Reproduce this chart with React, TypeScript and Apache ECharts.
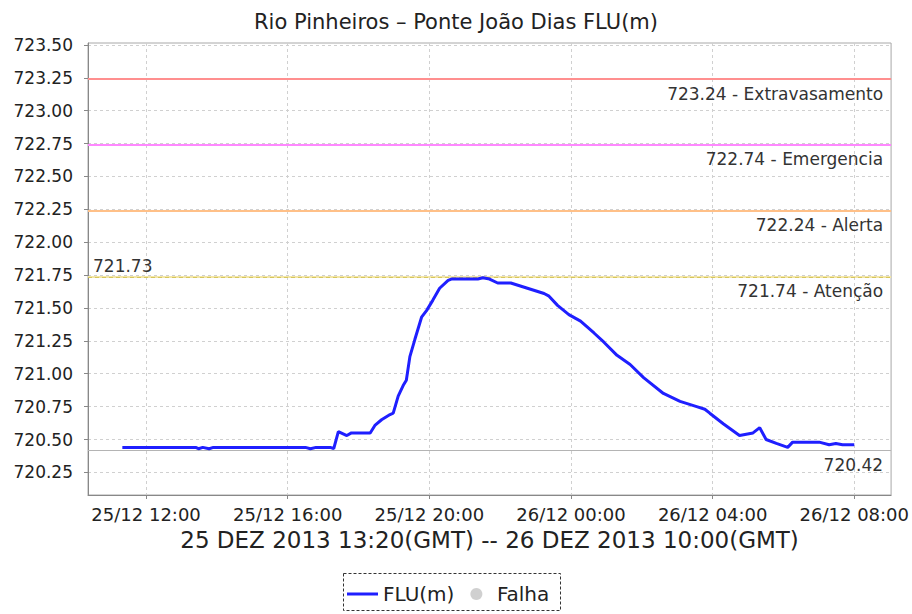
import React, { useEffect, useRef } from "react";
import * as echarts from "echarts";

const titleText = "Rio Pinheiros – Ponte João Dias FLU(m)";
const periodText = "25 DEZ 2013 13:20(GMT) -- 26 DEZ 2013 10:00(GMT)";
const seriesName = "FLU(m)";
const failName = "Falha";

// hours counted from 25/12 00:00 (local time)
const hours = [
  11.33, 12.0, 12.5, 13.0, 13.4, 13.48, 13.6, 13.78, 13.9, 14.5, 15.0, 15.5, 16.0, 16.5,
  16.64, 16.8, 17.2, 17.3, 17.43, 17.67, 17.8, 18.0, 18.33, 18.47, 18.65, 18.89, 18.98,
  19.12, 19.26, 19.35, 19.45, 19.59, 19.78, 19.92, 20.1, 20.29, 20.53, 20.62, 21.0, 21.37,
  21.51, 21.7, 21.93, 22.3, 22.77, 23.24, 23.38, 23.62, 23.94, 24.27, 24.65, 24.93, 25.3,
  25.67, 26.05, 26.61, 27.08, 27.55, 27.78, 27.92, 28.3, 28.76, 29.14, 29.33, 29.51, 29.8,
  30.12, 30.26, 30.73, 31.01, 31.29, 31.48, 31.67, 32.0,
];
const levels = [
  720.44, 720.44, 720.44, 720.44, 720.44, 720.43, 720.44, 720.43, 720.44, 720.44, 720.44,
  720.44, 720.44, 720.44, 720.43, 720.44, 720.44, 720.43, 720.56, 720.53, 720.55, 720.55,
  720.55, 720.61, 720.65, 720.69, 720.7, 720.83, 720.91, 720.95, 721.13, 721.26, 721.43,
  721.48, 721.56, 721.65, 721.71, 721.72, 721.72, 721.72, 721.73, 721.72, 721.69, 721.69,
  721.65, 721.61, 721.59, 721.52, 721.45, 721.4, 721.31, 721.24, 721.14, 721.07, 720.97,
  720.85, 720.79, 720.75, 720.73, 720.7, 720.62, 720.53, 720.55, 720.59, 720.5, 720.47,
  720.44, 720.48, 720.48, 720.48, 720.46, 720.47, 720.46, 720.46,
];

const yTicks = [
  720.25, 720.5, 720.75, 721.0, 721.25, 721.5, 721.75, 722.0, 722.25, 722.5, 722.75, 723.0,
  723.25, 723.5,
];
const xTicks = [12, 16, 20, 24, 28, 32];

const thresholdValues = [723.24, 722.74, 722.24, 721.74];
const thresholdLabels = [
  "723.24 - Extravasamento",
  "722.74 - Emergencia",
  "722.24 - Alerta",
  "721.74 - Atenção",
];
const maxValue = 721.73;
const minValue = 720.42;

const FONT = "DejaVu Sans";

function fmtTime(v: number): string {
  const day = 25 + Math.floor(v / 24);
  const h = Math.round(v % 24);
  return `${day}/12 ${String(h).padStart(2, "0")}:00`;
}

export default function App() {
  const ref = useRef<HTMLDivElement>(null);
  useEffect(() => {
    if (!ref.current) return;
    const chart = echarts.init(ref.current, undefined, { renderer: "svg" });
    const thresholdColors = ["#ff8f8f", "#ff88ff", "#ffc088", "#f3e6a8"];
    const lblStyle = { color: "#333", fontSize: 17, fontFamily: FONT };
    const markData: any[] = thresholdValues.map((v, i) => ({
      yAxis: v,
      lineStyle: { color: thresholdColors[i], width: 2, type: "solid" },
      label: {
        show: true,
        formatter: thresholdLabels[i],
        position: "insideEndBottom",
        distance: [8, 6],
        ...lblStyle,
      },
    }));
    markData.push({
      yAxis: maxValue,
      lineStyle: { color: "#d6c65c", width: 1, type: [4, 3] },
      label: {
        show: true,
        formatter: String(maxValue),
        position: "insideStartTop",
        distance: [5, 3],
        ...lblStyle,
      },
    });
    markData.push({
      yAxis: minValue,
      lineStyle: { color: "#b4b4b4", width: 1, type: "solid" },
      label: {
        show: true,
        formatter: minValue.toFixed(2),
        position: "insideEndBottom",
        distance: [8, 6],
        ...lblStyle,
      },
    });

    chart.setOption({
      animation: false,
      backgroundColor: "#fff",
      title: {
        text: titleText,
        left: "center",
        top: 6,
        textStyle: { fontFamily: FONT, fontSize: 21, fontWeight: "normal", color: "#222" },
      },
      grid: {
        left: 88,
        right: 17,
        top: 43,
        bottom: 119,
        show: true,
        borderColor: "#a8a8a8",
        borderWidth: 1,
        backgroundColor: "#fff",
      },
      legend: {
        left: 347,
        top: 584,
        padding: 0,
        itemWidth: 31,
        itemHeight: 12,
        itemGap: 16,
        selectedMode: false,
        textStyle: { fontFamily: FONT, fontSize: 20, color: "#222" },
        data: [
          { name: seriesName, icon: "path://M0,0L31,0L31,3L0,3Z" },
          { name: failName, icon: "circle" },
        ],
      },
      graphic: [
        {
          type: "rect",
          shape: { x: 343.5, y: 573.5, width: 217, height: 37 },
          style: { fill: "none", stroke: "#333", lineWidth: 1, lineDash: [3, 2] },
          silent: true,
        },
      ],
      xAxis: {
        type: "value",
        min: 10.36,
        max: 33.04,
        name: periodText,
        nameLocation: "middle",
        nameGap: 33,
        nameTextStyle: { fontFamily: FONT, fontSize: 23, color: "#222" },
        axisLine: { show: true, lineStyle: { color: "#888" } },
        axisTick: { show: true, length: 4, lineStyle: { color: "#888" }, customValues: xTicks },
        axisLabel: {
          customValues: xTicks,
          formatter: (v: number) => fmtTime(v),
          margin: 10,
          fontFamily: FONT,
          fontSize: 18,
          color: "#222",
        },
        splitLine: { show: true, lineStyle: { color: "#d0d0d0", type: [3, 3], width: 1 } },
      },
      yAxis: {
        type: "value",
        min: 720.078,
        max: 723.515,
        axisLine: { show: true, lineStyle: { color: "#888" } },
        axisTick: { show: true, length: 4, lineStyle: { color: "#888" }, customValues: yTicks },
        axisLabel: {
          customValues: yTicks,
          formatter: (v: number) => v.toFixed(2),
          margin: 15,
          fontFamily: FONT,
          fontSize: 17,
          color: "#222",
        },
        splitLine: { show: true, lineStyle: { color: "#d0d0d0", type: [3, 3], width: 1 } },
      },
      series: [
        {
          name: seriesName,
          type: "line",
          symbol: "none",
          data: hours.map((h, i) => [h, levels[i]]),
          lineStyle: { color: "#1f1fff", width: 3 },
          itemStyle: { color: "#1f1fff" },
          z: 5,
          markLine: {
            silent: true,
            symbol: ["none", "none"],
            animation: false,
            z: 3,
            data: markData,
          },
        },
        {
          name: failName,
          type: "scatter",
          data: [],
          itemStyle: { color: "#c4c4c4" },
        },
      ],
    });
    return () => chart.dispose();
  }, []);
  return (
    <div
      ref={ref}
      style={{ position: "absolute", left: 0, top: 0, width: 912, height: 614 }}
    />
  );
}
